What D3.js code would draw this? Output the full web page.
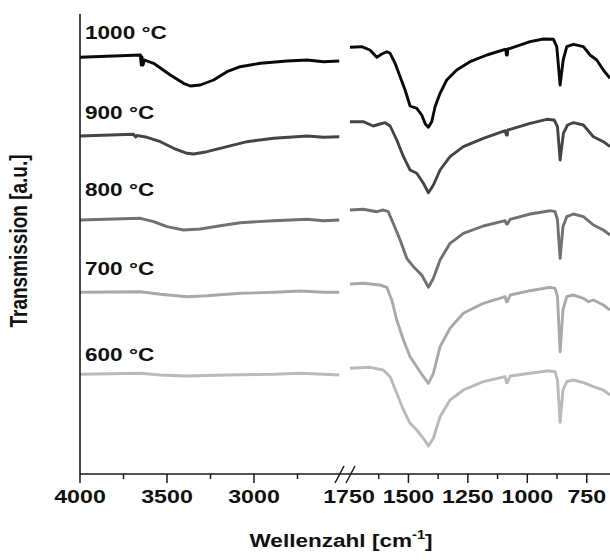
<!DOCTYPE html>
<html>
<head>
<meta charset="utf-8">
<script src="https://cdn.jsdelivr.net/npm/d3@7"></script>
<style>
	body { margin: 0; background: #fff; }
	svg { display: block; }
</style>
</head>
<body>
<svg id="chart"></svg>
<script>
// temperatures, top to bottom
const temps = ["1000 °C", "900 °C", "800 °C", "700 °C", "600 °C"];
const lineColors = ["#0a0a0a", "#454545", "#717171", "#a9a9a9", "#bababa"];

// spectra: [wavenumber, transmission (a.u., stacked)]
// left part 4000-2500 cm-1
const s1000Left = [[4000, 41.67], [3653, 41.9], [3648, 40.9], [3644, 41.7], [3638, 40.9], [3630, 41.4], [3577, 41.07], [3481, 39.9], [3405, 39.07], [3366, 38.8], [3309, 38.9], [3232, 39.4], [3155, 40.23], [3079, 40.73], [2964, 41.07], [2810, 41.3], [2695, 41.4], [2600, 41.23], [2510, 41.3]];
const s900Left = [[4000, 33.8], [3692, 33.97], [3680, 33.7], [3672, 33.85], [3615, 33.67], [3538, 33.23], [3462, 32.57], [3385, 32.07], [3347, 32.0], [3270, 32.23], [3155, 32.73], [3040, 33.23], [2887, 33.57], [2695, 33.8], [2600, 33.67], [2510, 33.73]];
const s800Left = [[4000, 25.4], [3653, 25.57], [3577, 25.23], [3500, 24.73], [3405, 24.4], [3309, 24.5], [3194, 24.83], [3079, 25.13], [2887, 25.33], [2695, 25.47], [2600, 25.33], [2510, 25.4]];
const s700Left = [[4000, 18.17], [3653, 18.23], [3538, 17.97], [3385, 17.73], [3270, 17.83], [3079, 18.07], [2887, 18.17], [2734, 18.3], [2600, 18.17], [2510, 18.17]];
const s600Left = [[4000, 9.97], [3653, 10.07], [3538, 9.9], [3385, 9.8], [3155, 9.9], [2887, 9.97], [2734, 10.07], [2600, 9.97], [2510, 9.9]];

// right part 1750-650 cm-1
const s1000Right = [[1746, 42.67], [1697, 42.73], [1662, 42.4], [1633, 41.67], [1612, 42.0], [1591, 42.23], [1577, 42.07], [1556, 41.07], [1535, 39.73], [1514, 38.4], [1493, 36.8], [1465, 36.57], [1444, 35.9], [1429, 35.0], [1416, 34.67], [1402, 35.23], [1388, 36.73], [1367, 38.07], [1339, 39.4], [1297, 40.4], [1241, 41.23], [1170, 41.9], [1094, 42.47], [1090, 42.45], [1088, 41.9], [1084, 41.9], [1082, 42.5], [1072, 42.57], [988, 43.23], [932, 43.5], [890, 43.47], [876, 42.73], [862, 38.9], [849, 41.4], [834, 42.73], [806, 42.97], [764, 42.73], [736, 41.9], [708, 41.4], [680, 40.4], [652, 39.57]];
const s900Right = [[1746, 35.23], [1690, 35.23], [1648, 34.8], [1620, 35.0], [1598, 35.13], [1577, 34.8], [1549, 33.4], [1521, 31.73], [1493, 30.4], [1465, 30.07], [1437, 29.07], [1416, 28.13], [1395, 28.9], [1367, 30.4], [1325, 31.73], [1269, 32.73], [1185, 33.57], [1093, 34.33], [1088, 33.9], [1084, 33.9], [1082, 34.4], [1072, 34.47], [988, 35.07], [918, 35.47], [887, 35.4], [873, 34.73], [862, 31.4], [848, 34.07], [831, 34.9], [806, 35.13], [764, 34.9], [722, 33.73], [680, 33.23], [652, 32.73]];
const s800Right = [[1746, 26.4], [1690, 26.47], [1633, 26.23], [1606, 26.4], [1585, 26.23], [1564, 25.07], [1535, 23.4], [1507, 21.57], [1479, 20.73], [1444, 19.9], [1416, 18.67], [1395, 19.57], [1367, 21.4], [1325, 23.07], [1269, 24.07], [1185, 24.8], [1093, 25.33], [1088, 25.0], [1084, 25.0], [1072, 25.47], [988, 26.0], [904, 26.33], [883, 26.23], [873, 25.4], [862, 21.57], [850, 24.73], [834, 25.73], [806, 26.0], [764, 25.73], [722, 24.9], [680, 24.4], [652, 23.9]];
const s700Right = [[1746, 19.0], [1690, 19.07], [1620, 18.9], [1591, 18.67], [1570, 17.4], [1549, 15.4], [1521, 13.4], [1493, 11.73], [1465, 10.73], [1437, 9.73], [1416, 9.07], [1395, 10.07], [1367, 12.73], [1325, 14.57], [1269, 16.07], [1185, 17.07], [1093, 17.73], [1088, 17.23], [1084, 17.23], [1072, 17.9], [988, 18.33], [904, 18.67], [883, 18.57], [873, 17.73], [862, 12.23], [850, 16.4], [834, 17.73], [806, 17.9], [764, 17.57], [743, 17.23], [722, 17.4], [680, 16.9], [652, 16.4]];
const s600Right = [[1746, 10.57], [1662, 10.67], [1606, 10.4], [1577, 9.73], [1549, 8.07], [1521, 6.4], [1493, 5.07], [1465, 4.4], [1437, 3.57], [1416, 2.8], [1395, 3.57], [1367, 5.73], [1325, 7.4], [1269, 8.4], [1185, 9.23], [1093, 9.73], [1088, 9.13], [1084, 9.13], [1072, 9.8], [988, 10.07], [911, 10.33], [883, 10.23], [873, 9.4], [862, 5.17], [850, 8.4], [834, 9.23], [806, 9.4], [764, 9.13], [722, 8.73], [680, 8.4], [652, 7.9]];

const leftSeries = [s1000Left, s900Left, s800Left, s700Left, s600Left];
const rightSeries = [s1000Right, s900Right, s800Right, s700Right, s600Right];

// label baselines, in the same a.u. as the spectra
const labelPos = [43.5, 35.5, 27.8, 19.9, 11.3];

const leftMajor = [4000, 3500, 3000];
const leftMinor = [3750, 3250, 2750];
const rightMajor = [1750, 1500, 1250, 1000, 750];
const rightMinor = [1625, 1375, 1125, 875];

const w = 610, h = 560;
const stretch = 1.22; // text in the original is a bit wider than tall
const font = "'Liberation Sans', Arial, sans-serif";

const svg = d3.select("#chart")
	.attr("width", w)
	.attr("height", h);

const xLeft = d3.scaleLinear().domain([4000, 2500]).range([80, 341]);
const xRight = d3.scaleLinear().domain([1750, 650]).range([349, 610.5]);
const y = d3.scaleLinear().domain([0, 46]).range([474, 14]);

const lineLeft = d3.line()
	.x(d => xLeft(d[0]))
	.y(d => y(d[1]));
const lineRight = d3.line()
	.x(d => xRight(d[0]))
	.y(d => y(d[1]));

// spectra
const spectra = svg.append("g");
leftSeries.forEach((s, i) => {
	spectra.append("path")
		.attr("d", lineLeft(s))
		.attr("fill", "none")
		.attr("stroke", lineColors[i])
		.attr("stroke-width", 2.9)
		.attr("stroke-linejoin", "round");
});
rightSeries.forEach((s, i) => {
	spectra.append("path")
		.attr("d", lineRight(s))
		.attr("fill", "none")
		.attr("stroke", lineColors[i])
		.attr("stroke-width", 2.9)
		.attr("stroke-linejoin", "round");
});

// temperature labels
svg.append("g").selectAll("text")
	.data(temps)
	.enter()
	.append("text")
	.text(d => d)
	.attr("transform", (d, i) => `translate(85,${y(labelPos[i])}) scale(${stretch},1)`)
	.attr("font-family", font)
	.attr("font-weight", "bold")
	.attr("font-size", "18.5px")
	.attr("fill", "#111");

// axes
const axisY = y.range()[0];
const axisG = svg.append("g");

axisG.append("line")
	.attr("x1", xLeft(4000)).attr("x2", w)
	.attr("y1", axisY).attr("y2", axisY)
	.attr("stroke", "#1a1a1a")
	.attr("stroke-width", 1.6);

axisG.append("line")
	.attr("x1", xLeft(4000)).attr("x2", xLeft(4000))
	.attr("y1", y(46)).attr("y2", axisY)
	.attr("stroke", "#1a1a1a")
	.attr("stroke-width", 1.6);

const tickLines = [
	...leftMajor.map(v => ({ x: xLeft(v), len: 9 })),
	...leftMinor.map(v => ({ x: xLeft(v), len: 5 })),
	...rightMajor.filter(v => v !== 1750).map(v => ({ x: xRight(v), len: 9 })),
	...rightMinor.map(v => ({ x: xRight(v), len: 5 }))
];
axisG.selectAll(".tick")
	.data(tickLines)
	.enter()
	.append("line")
	.attr("class", "tick")
	.attr("x1", d => d.x).attr("x2", d => d.x)
	.attr("y1", axisY).attr("y2", d => axisY + d.len)
	.attr("stroke", "#1a1a1a")
	.attr("stroke-width", 1.5);

// break marks
const bx = xRight(1750);
[-9, 2].forEach(off => {
	axisG.append("line")
		.attr("x1", bx + off - 5).attr("y1", axisY + 9)
		.attr("x2", bx + off + 4).attr("y2", axisY - 8)
		.attr("stroke", "#1a1a1a")
		.attr("stroke-width", 1.5);
});

const tickLabels = [
	...leftMajor.map(v => ({ x: xLeft(v), t: v })),
	...rightMajor.map(v => ({ x: xRight(v), t: v }))
];
axisG.selectAll(".lbl")
	.data(tickLabels)
	.enter()
	.append("text")
	.attr("class", "lbl")
	.text(d => d.t)
	.attr("transform", d => `translate(${d.x},${axisY + 29}) scale(${stretch},1)`)
	.attr("text-anchor", "middle")
	.attr("font-family", font)
	.attr("font-weight", "bold")
	.attr("font-size", "19px")
	.attr("fill", "#111");

// x title
const xt = svg.append("text")
	.attr("transform", `translate(341,547) scale(${stretch},1)`)
	.attr("text-anchor", "middle")
	.attr("font-family", font)
	.attr("font-weight", "bold")
	.attr("font-size", "18.5px")
	.attr("fill", "#111");
xt.append("tspan").text("Wellenzahl [cm");
xt.append("tspan").text("-1").attr("font-size", "12px").attr("dy", -8);
xt.append("tspan").text("]").attr("dy", 8);

// y title
svg.append("text")
	.text("Transmission [a.u.]")
	.attr("transform", `translate(27,241) scale(${stretch},1) rotate(-90)`)
	.attr("text-anchor", "middle")
	.attr("font-family", font)
	.attr("font-weight", "bold")
	.attr("font-size", "19px")
	.attr("fill", "#111");
</script>
</body>
</html>
